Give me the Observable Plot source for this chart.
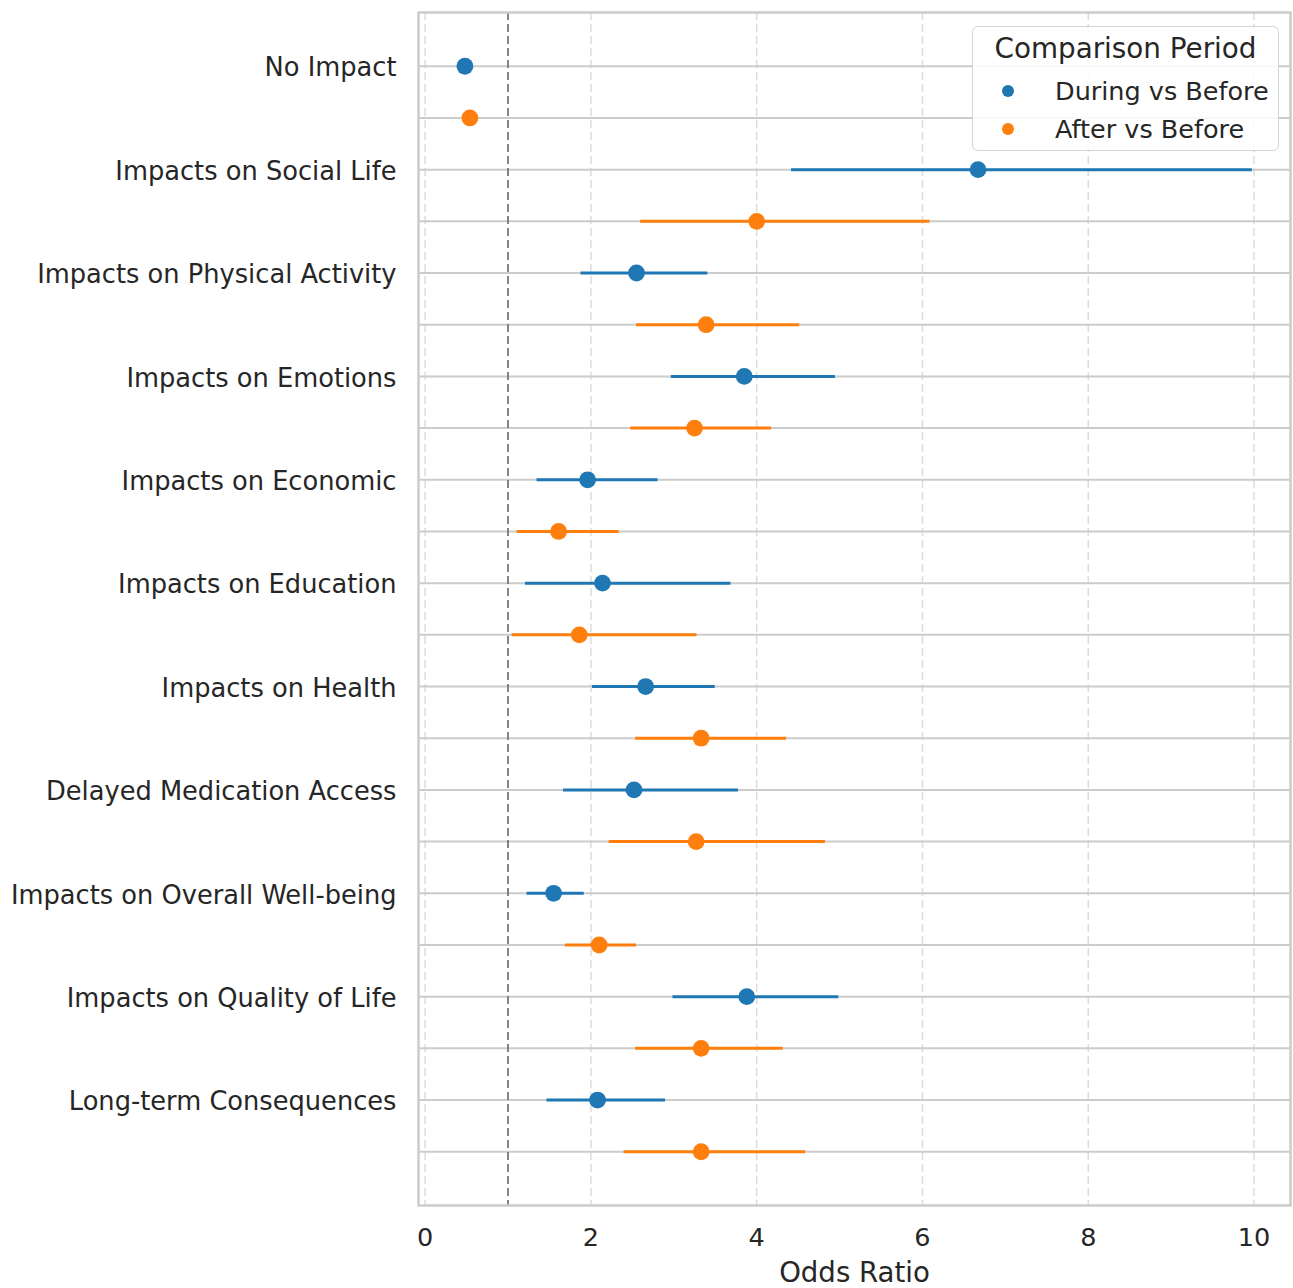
<!DOCTYPE html>
<html>
<head>
<meta charset="utf-8">
<script src="https://cdn.jsdelivr.net/npm/d3@7"></script>
<script src="https://cdn.jsdelivr.net/npm/@observablehq/plot@0.6"></script>
<style>
  html, body { margin: 0; padding: 0; background: #fff; }
  #wrap { position: relative; width: 1293px; height: 1288px; font-family: "DejaVu Sans", sans-serif; color: #262626; }
  #wrap svg { font-family: "DejaVu Sans", sans-serif; }
  .legend { position: absolute; left: 972px; top: 26px; width: 307px; height: 125px;
            border: 1.5px solid #d4d4d4; border-radius: 6px; background: rgba(255,255,255,0.85); box-sizing: border-box; }
  .legend .title { position: absolute; left: 0; right: 0; top: 5px; text-align: center; font-size: 27.8px; line-height: 34px; }
  .legend .sw { position: absolute; left: 29px; width: 12px; height: 12px; border-radius: 50%; }
  .legend .lab { position: absolute; left: 82px; white-space: nowrap; }
</style>
</head>
<body>
<div id="wrap"></div>
<script>
const categories = [
  "No Impact",
  "Impacts on Social Life",
  "Impacts on Physical Activity",
  "Impacts on Emotions",
  "Impacts on Economic",
  "Impacts on Education",
  "Impacts on Health",
  "Delayed Medication Access",
  "Impacts on Overall Well-being",
  "Impacts on Quality of Life",
  "Long-term Consequences"
];
const periods = ["During vs Before", "After vs Before"];
const colors = ["#1f77b4", "#ff7f0e"];

// Odds ratios and 95% CI, per category (in category order)
const duringOR = [0.48, 6.67, 2.55, 3.85, 1.96, 2.14, 2.66, 2.52, 1.55, 3.88, 2.08];
const duringLo = [0.45, 4.42, 1.88, 2.97, 1.35, 1.21, 2.02, 1.67, 1.23, 2.99, 1.47];
const duringHi = [0.52, 9.98, 3.41, 4.95, 2.81, 3.69, 3.50, 3.78, 1.92, 4.99, 2.90];
const afterOR  = [0.54, 4.00, 3.39, 3.25, 1.61, 1.86, 3.33, 3.27, 2.10, 3.33, 3.33];
const afterLo  = [0.51, 2.60, 2.55, 2.48, 1.11, 1.05, 2.54, 2.22, 1.69, 2.54, 2.40];
const afterHi  = [0.58, 6.09, 4.52, 4.18, 2.34, 3.28, 4.36, 4.83, 2.55, 4.32, 4.59];

const xTicks = [0, 2, 4, 6, 8, 10];
const refLine = [1];

const rows = [];
categories.forEach((c, i) => {
  rows.push({category: c, period: periods[0], key: c + "|" + periods[0], or: duringOR[i], lo: duringLo[i], hi: duringHi[i]});
  rows.push({category: c, period: periods[1], key: c + "|" + periods[1], or: afterOR[i], lo: afterLo[i], hi: afterHi[i]});
});
const yDomain = rows.map(d => d.key);

const chart = Plot.plot({
  width: 1293,
  height: 1288,
  marginLeft: 418,
  marginRight: 3,
  marginTop: 12,
  marginBottom: 83,
  style: {fontFamily: "DejaVu Sans, sans-serif", color: "#262626", background: "transparent"},
  x: {domain: [-0.08, 10.44]},
  y: {type: "point", domain: yDomain, padding: 1.04, round: false},
  color: {domain: periods, range: colors},
  marks: [
    Plot.gridX({ticks: xTicks, stroke: "#dcdcdc", strokeOpacity: 1, strokeWidth: 1.5, strokeDasharray: "8,4"}),
    Plot.gridY({stroke: "#cccccc", strokeOpacity: 1, strokeWidth: 2}),
    Plot.ruleX(refLine, {stroke: "#777777", strokeWidth: 1.8, strokeDasharray: "8,4"}),
    Plot.ruleY(rows, {y: "key", x1: "lo", x2: "hi", stroke: "period", strokeWidth: 3}),
    Plot.dot(rows, {y: "key", x: "or", fill: "period", r: 8.4, stroke: "none"}),
    Plot.frame({stroke: "#cccccc", strokeWidth: 2.5}),
    Plot.axisY({
      tickSize: 0, tickPadding: 22, fontSize: 25.7, fill: "#262626", label: null, dy: 2,
      tickFormat: k => k.endsWith("|" + periods[0]) ? k.split("|")[0] : ""
    }),
    Plot.axisX({ticks: xTicks, tickSize: 0, tickPadding: 22, fontSize: 25.5, fill: "#262626", label: null}),
    Plot.text(["Odds Ratio"], {frameAnchor: "bottom", dy: 68, fontSize: 27.6, fill: "#262626", lineAnchor: "middle"})
  ]
});

const wrap = document.getElementById("wrap");
wrap.appendChild(chart);

// Legend
const lg = document.createElement("div");
lg.className = "legend";
const t = document.createElement("div");
t.className = "title";
t.textContent = "Comparison Period";
lg.appendChild(t);
periods.forEach((p, i) => {
  const cy = 64 + i * 38; // center relative to legend top
  const sw = document.createElement("div");
  sw.className = "sw";
  sw.style.background = colors[i];
  sw.style.top = (cy - 6) + "px";
  lg.appendChild(sw);
  const lab = document.createElement("div");
  lab.className = "lab";
  lab.style.fontSize = "25.5px";
  lab.style.lineHeight = "30px";
  lab.style.top = (cy - 15) + "px";
  lab.textContent = p;
  lg.appendChild(lab);
});
wrap.appendChild(lg);
</script>
</body>
</html>
